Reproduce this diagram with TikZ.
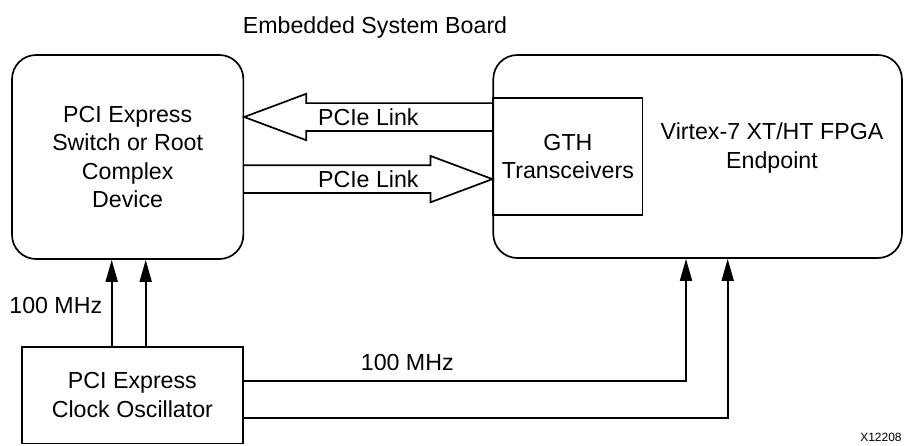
\documentclass[tikz,border=0pt]{standalone}
\usepackage{fontspec}
\setmainfont{Liberation Sans}
\usetikzlibrary{calc}
\usetikzlibrary{positioning,arrows.meta}

\begin{document}
\begin{tikzpicture}[x=0.5pt, y=-0.5pt, font=\fontsize{11.6}{14.2}\selectfont, line width=0.85pt,
        board/.style={rectangle, rounded corners=12pt, draw, align=center},
        clk/.style={-{Triangle[length=11pt, width=6pt]}},
        link/.style={line join=miter}]
        \useasboundingbox (0,0) rectangle (906,445);

        %% Boards
        \node (title) at (375,27) {Embedded System Board};
        \node[board, minimum width=115.65pt, minimum height=102pt] (sw) at (127.7,157) {PCI Express\\Switch or Root\\Complex\\Device};
        \node[board, minimum width=204.3pt, minimum height=101.5pt] (fpga) at (697.6,156.5) {};
        \node[rectangle, draw, align=center, minimum width=74.65pt, minimum height=58.35pt, anchor=west] (gth) at (fpga.west) {GTH\\Transceivers};
        \node[align=center] (fpgatxt) at (772,148) {Virtex-7 XT/HT FPGA\\Endpoint};
        \node[rectangle, draw, align=center, minimum width=110.35pt, minimum height=48.15pt] (osc) at (132.4,395.2) {PCI Express\\Clock Oscillator};

        %% PCIe links
        \coordinate (up) at ($(gth.west)+(0,-39.5)$);
        \coordinate (dn) at ($(gth.west)+(0,22.6)$);
        \draw[link] ($(up)+(0,-13.9)$) -- ($(up -| sw.east)+(62,-13.9)$) -- ++(0,-9.3) -- (up -| sw.east) -- ++(62,23.2) -- ++(0,-9.3) -- ($(up)+(0,13.9)$);
        \path (up -| sw.east) -- node (l1) {PCIe Link} (up);
        \draw[link] ($(dn -| sw.east)+(0,-13.9)$) -- ($(dn)+(-62,-13.9)$) -- ++(0,-9.3) -- (dn) -- ++(-62,23.2) -- ++(0,-9.3) -- ($(dn -| sw.east)+(0,13.9)$);
        \path (dn -| sw.east) -- node (l2) {PCIe Link} (dn);

        %% Clocks
        \coordinate (ca) at ($(osc.north)+(-20.7,0)$);
        \coordinate (cb) at ($(osc.north)+(13.3,0)$);
        \draw[clk] (ca) -- node[pos=0.47, left=1pt] (f1) {100 MHz} (ca |- sw.south);
        \draw[clk] (cb) -- (cb |- sw.south);
        \draw[clk] ($(osc.east)+(0,-14.5)$) -| node[pos=0.185, above=1pt] (f2) {100 MHz} ($(fpga.south)+(-11.6,0)$);
        \draw[clk] ($(osc.east)+(0,23.1)$) -| ($(fpga.south)+(30.1,0)$);

        \node[anchor=east, font=\fontsize{6}{7}\selectfont, inner sep=1pt] (code) at (904.5,437.5) {X12208};
\end{tikzpicture}
\end{document}
